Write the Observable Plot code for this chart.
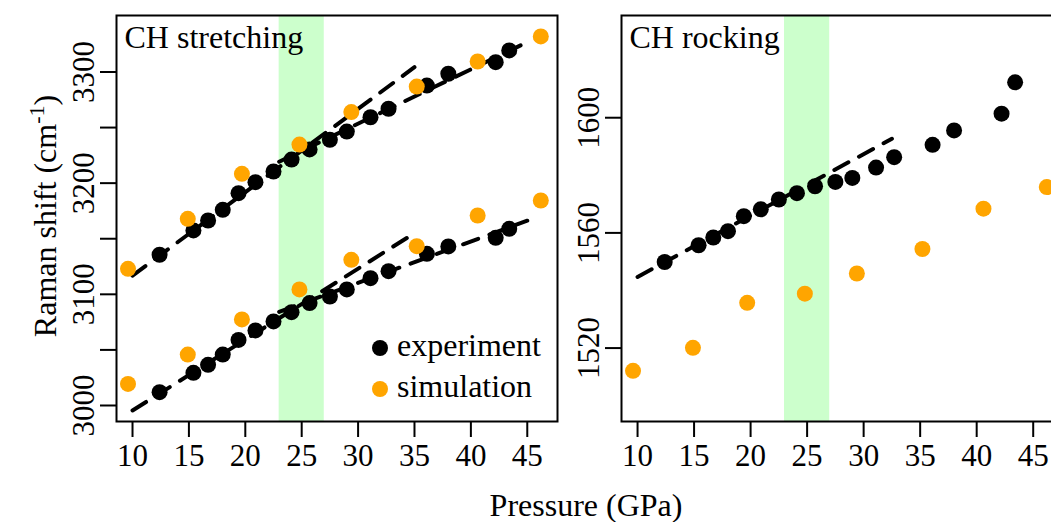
<!DOCTYPE html>
<html>
<head>
<meta charset="utf-8">
<script src="https://cdn.jsdelivr.net/npm/d3@7"></script>
<script src="https://cdn.jsdelivr.net/npm/@observablehq/plot@0.6"></script>
<style>
  html, body { margin: 0; padding: 0; background: #fff; overflow: hidden; }
  #fig { position: relative; width: 1051px; height: 522px; overflow: hidden; background: #fff; }
  #fig > svg, #fig > figure { position: absolute; top: 0; margin: 0; }
  #overlay { left: 0; pointer-events: none; }
</style>
</head>
<body>
<div id="fig"></div>
<script>
// Pressures (GPa) of the measured and computed spectra
const pressureExp = [12.4, 15.4, 16.7, 18.0, 19.4, 20.9, 22.5, 24.1, 25.7, 27.5, 29.0, 31.1, 32.7, 36.1, 38.0, 42.2, 43.4];
const pressureSim = [9.6, 14.9, 19.7, 24.8, 29.4, 35.2, 40.6, 46.2];

// CH stretching: upper and lower bands (cm^-1)
const stretchUpperExp = [3135.6, 3157.5, 3166.4, 3176.0, 3191.0, 3200.9, 3210.5, 3221.2, 3230.3, 3239.0, 3246.4, 3259.3, 3266.9, 3287.8, 3298.4, 3308.8, 3319.4];
const stretchLowerExp = [3012.0, 3029.4, 3036.6, 3045.8, 3059.0, 3067.5, 3075.6, 3083.9, 3092.1, 3098.0, 3104.4, 3114.5, 3120.8, 3136.4, 3143.1, 3150.8, 3158.9];
const stretchUpperSim = [3122.9, 3167.9, 3208.4, 3234.7, 3263.9, 3286.9, 3309.4, 3332.0];
const stretchLowerSim = [3019.4, 3045.8, 3077.4, 3104.4, 3131.0, 3143.3, 3170.9, 3184.4];

// CH rocking (cm^-1)
const rockingExp = [1549.9, 1555.7, 1558.4, 1560.6, 1565.8, 1568.2, 1571.6, 1573.8, 1576.2, 1577.7, 1579.1, 1582.7, 1586.3, 1590.6, 1595.6, 1601.4, 1612.3];
const rockingSim = [1512.1, 1520.1, 1535.7, 1538.9, 1545.9, 1554.4, 1568.4, 1575.9];

// Linear fits: end pressures and fitted shifts at those ends
const fitLowP = [10, 35];
const fitHighP = [23, 45];
const stretchUpperFitLow = [3116.9, 3304.3];
const stretchUpperFitHigh = [3219.3, 3326.8];
const stretchLowerFitLow = [2995.5, 3155.0];
const stretchLowerFitHigh = [3084.2, 3166.2];
const rockingFitP = [10, 32.5];
const rockingFit = [1544.7, 1592.7];

// Transition pressure range
const transition = [23, 27];

// Series and ticks
const seriesNames = ["experiment", "simulation"];
const seriesColors = ["black", "orange"];
const pressureTicks = [10, 15, 20, 25, 30, 35, 40, 45];
const stretchTicks = [3000, 3050, 3100, 3150, 3200, 3250, 3300];
const stretchTickLabels = [3000, 3100, 3200, 3300];
const rockingTicks = [1520, 1560, 1600];
const rockingTickLabels = [1520, 1560, 1600];

const zip = (xs, ys, series) => xs.map((x, i) => ({pressure: x, shift: ys[i], series}));

function panel({width, marginLeft, marginRight, yDomain, yTicks, yLabels, title, points, fits}) {
  return Plot.plot({
    width, height: 522,
    marginLeft, marginRight, marginTop: 15, marginBottom: 101,
    style: {fontFamily: '"Liberation Serif", "Times New Roman", serif', fontSize: "31px", color: "black", background: "white"},
    x: {domain: [8.58, 47.68]},
    y: {domain: yDomain},
    color: {domain: seriesNames, range: seriesColors},
    marks: [
      Plot.rect([transition], {x1: d => d[0], x2: d => d[1], fill: "#ccffcc"}),
      ...fits.map(f => Plot.line(f, {x: "pressure", y: "shift", stroke: "black", strokeWidth: 4, strokeDasharray: "16,12"})),
      ...seriesNames.map(s => Plot.dot(points.filter(d => d.series === s), {x: "pressure", y: "shift", r: 8, fill: "series"})),
      Plot.text([title], {frameAnchor: "top-left", dx: 8, dy: 10, lineAnchor: "top", textAnchor: "start", fontSize: 32}),
      Plot.frame({stroke: "black", strokeWidth: 2}),
      Plot.axisX({ticks: pressureTicks, tickSize: 16, tickPadding: 6, strokeWidth: 2, fontSize: 31, label: null}),
      Plot.axisY({ticks: yTicks, tickSize: 16, tickPadding: 7, tickRotate: -90, strokeWidth: 2, fontSize: 31, label: null,
                  tickFormat: d => yLabels.includes(d) ? String(d) : ""})
    ]
  });
}

const fig = document.getElementById("fig");

const stretching = panel({
  width: 570, marginLeft: 116, marginRight: 13,
  yDomain: [2985.6, 3350.8],
  yTicks: stretchTicks, yLabels: stretchTickLabels,
  title: "CH stretching",
  points: [
    ...zip(pressureExp, stretchUpperExp, "experiment"),
    ...zip(pressureExp, stretchLowerExp, "experiment"),
    ...zip(pressureSim, stretchUpperSim, "simulation"),
    ...zip(pressureSim, stretchLowerSim, "simulation")
  ],
  fits: [
    zip(fitLowP, stretchUpperFitLow), zip(fitHighP, stretchUpperFitHigh),
    zip(fitLowP, stretchLowerFitLow), zip(fitHighP, stretchLowerFitHigh)
  ]
});
stretching.style.left = "0px";
fig.appendChild(stretching);

const rocking = panel({
  width: 500, marginLeft: 51, marginRight: 7,
  yDomain: [1494.5, 1635.5],
  yTicks: rockingTicks, yLabels: rockingTickLabels,
  title: "CH rocking",
  points: [
    ...zip(pressureExp, rockingExp, "experiment"),
    ...zip(pressureSim, rockingSim, "simulation")
  ],
  fits: [zip(rockingFitP, rockingFit)]
});
rocking.style.left = "570px";
fig.appendChild(rocking);

// Shared axis titles and the legend
const overlay = d3.select(fig).append("svg")
  .attr("id", "overlay").attr("width", 1051).attr("height", 522)
  .style("font-family", '"Liberation Serif", "Times New Roman", serif');

overlay.append("text")
  .attr("x", 586).attr("y", 516).attr("text-anchor", "middle").attr("font-size", 32)
  .text("Pressure (GPa)");

const ylab = overlay.append("text")
  .attr("transform", "translate(56,216) rotate(-90)")
  .attr("text-anchor", "middle").attr("font-size", 32);
ylab.append("tspan").text("Raman shift (cm");
ylab.append("tspan").attr("dy", -12).attr("font-size", 22).text("-1");
ylab.append("tspan").attr("dy", 12).attr("font-size", 32).text(")");

const legend = overlay.append("g");
seriesNames.forEach((name, i) => {
  const cy = 348 + i * 41;
  legend.append("circle").attr("cx", 380).attr("cy", cy).attr("r", 8).attr("fill", seriesColors[i]);
  legend.append("text").attr("x", 397).attr("y", cy + 8).attr("font-size", 32).text(name);
});
</script>
</body>
</html>
